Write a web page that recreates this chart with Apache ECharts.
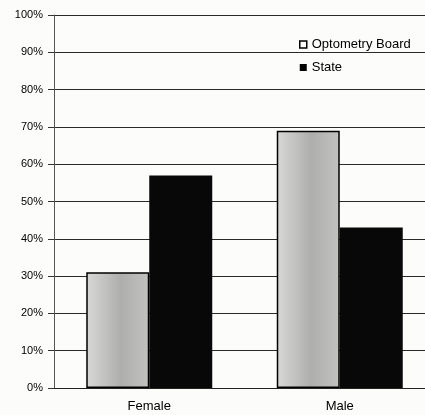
<!DOCTYPE html>
<html>
<head>
<meta charset="utf-8">
<script src="https://cdn.jsdelivr.net/npm/echarts@6/dist/echarts.min.js"></script>
<style>
  html, body { margin: 0; padding: 0; background: #fcfcfb; overflow: hidden; }
  /* plot area runs slightly past the right edge of the window */
  #chart { width: 436px; height: 415px; }
</style>
</head>
<body>
<div id="chart"></div>
<script>
// Share of each group by gender
const categories = ['Female', 'Male'];
const seriesNames = ['Optometry Board', 'State'];
const optometryBoard = [31, 69];
const state = [57, 43];
const yTicks = [0, 10, 20, 30, 40, 50, 60, 70, 80, 90, 100];

const chart = echarts.init(document.getElementById('chart'), null, { renderer: 'canvas' });

const stippleGray = new echarts.graphic.LinearGradient(0, 0, 1, 0, [
  { offset: 0, color: '#d8d8d6' },
  { offset: 0.55, color: '#aeaeac' },
  { offset: 1, color: '#c2c2c0' }
]);

chart.setOption({
  backgroundColor: '#fcfcfb',
  animation: false,
  textStyle: { fontFamily: 'Liberation Sans, Arial, sans-serif' },
  grid: { left: 54, top: 15, right: 1, bottom: 27, containLabel: false },
  legend: {
    orient: 'vertical',
    left: 294,
    top: 33,
    itemWidth: 7,
    itemHeight: 7,
    itemGap: 10,
    icon: 'rect',
    textStyle: { fontSize: 13, color: '#000' },
    data: [
      { name: seriesNames[0], itemStyle: { color: '#ffffff', borderColor: '#000', borderWidth: 1.5 } },
      { name: seriesNames[1], itemStyle: { color: '#000' } }
    ]
  },
  xAxis: {
    type: 'category',
    data: categories,
    axisLine: { lineStyle: { color: '#222', width: 1 } },
    axisTick: { show: false },
    axisLabel: { fontSize: 13, color: '#000', margin: 12 }
  },
  yAxis: {
    type: 'value',
    min: 0,
    max: 100,
    interval: 10,
    axisLine: { show: true, lineStyle: { color: '#555', width: 1 } },
    axisTick: { show: true, inside: false, length: 6, lineStyle: { color: '#333' } },
    axisLabel: {
      fontSize: 11,
      color: '#000',
      margin: 11,
      formatter: v => (yTicks.includes(v) ? v + '%' : '')
    },
    splitLine: { show: true, lineStyle: { color: '#2a2a2a', width: 1.2 } }
  },
  series: [
    {
      name: seriesNames[0],
      type: 'bar',
      data: optometryBoard,
      barWidth: 63,
      barGap: '0%',
      itemStyle: { color: stippleGray, borderColor: '#000', borderWidth: 1.5 }
    },
    {
      name: seriesNames[1],
      type: 'bar',
      data: state,
      barWidth: 63,
      itemStyle: { color: '#080808' }
    }
  ]
});
</script>
</body>
</html>
